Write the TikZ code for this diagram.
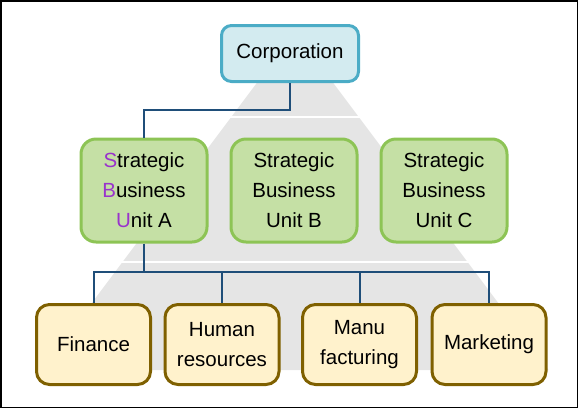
\documentclass[tikz,border=0pt]{standalone}
\usepackage{fontspec}
\setmainfont{Liberation Sans}
\usetikzlibrary{positioning}
\definecolor{corpfill}{HTML}{D3EBF0}
\definecolor{corpline}{HTML}{4BACC6}
\definecolor{sbufill}{HTML}{C5E0A5}
\definecolor{sbuline}{HTML}{8DC455}
\definecolor{deptfill}{HTML}{FFF2CC}
\definecolor{deptline}{HTML}{7F6000}
\definecolor{linkblue}{HTML}{1F4E79}
\definecolor{pyrgray}{HTML}{E5E5E5}
\definecolor{initial}{HTML}{9933CC}
\tikzset{
  unit/.style={draw,line width=3pt,align=center,inner sep=0pt,
    font=\fontsize{20.5}{30}\selectfont},
  corp/.style={unit,fill=corpfill,draw=corpline,rounded corners=10pt,
    minimum width=137pt,minimum height=56pt},
  sbu/.style={unit,fill=sbufill,draw=sbuline,rounded corners=15pt,
    minimum width=126pt,minimum height=103pt},
  dept/.style={unit,fill=deptfill,draw=deptline,rounded corners=13pt,
    minimum width=114pt,minimum height=80pt},
  link/.style={draw=linkblue,line width=2pt},
  stripe/.style={draw=white,line width=2.5pt}
}
\newcommand{\ini}[1]{{\color{initial}#1}}

\begin{document}
\begin{tikzpicture}[x=1pt,y=-1pt]
\useasboundingbox (0,0) rectangle (578,408);
% background pyramid
\fill[pyrgray] (295,32) -- (548.5,370) -- (41.5,370) -- cycle;
\draw[stripe] (200,117) -- (390,117);
\draw[stripe] (100,262) -- (490,262);
% boxes
\node[corp] (corp) at (290,53.5) {Corporation};
\node[sbu] (sbuA) at (144,190.5) {\ini{S}trategic\\\ini{B}usiness\\\ini{U}nit A};
\node[sbu,right=21pt of sbuA] (sbuB) {Strategic\\Business\\Unit B};
\node[sbu,right=21pt of sbuB] (sbuC) {Strategic\\Business\\Unit C};
\node[dept] (fin) at (93.5,344.5) {Finance};
\node[dept] (hr) at (222,344.5) {Human\\resources};
\node[dept] (manu) at (359.5,344.5) {Manu\\facturing};
\node[dept] (mkt) at (489,344.5) {Marketing};
% connectors
\coordinate (split) at (144,272);
\draw[link] (corp.south) -- ++(0,27) -| (sbuA.north);
\draw[link] (sbuA.south) -- (split);
\foreach \d in {fin,hr,manu,mkt} \draw[link] (split) -| (\d.north);
% frame
\draw[black,line width=1.5pt] (0.75,0.75) rectangle (577.25,407.25);
\end{tikzpicture}
\end{document}
